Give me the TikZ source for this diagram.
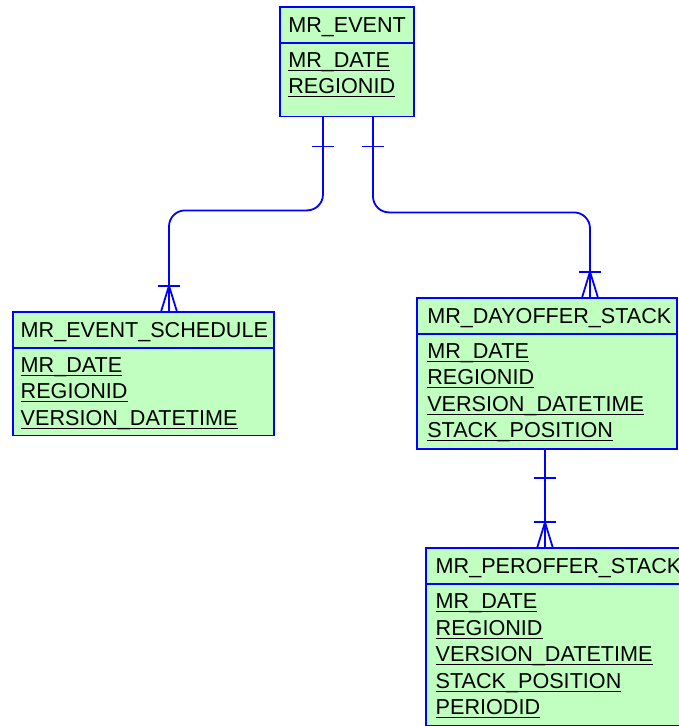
\documentclass[tikz,border=0pt]{standalone}
\usepackage{fontspec}
\setmainfont{Liberation Sans}
\usetikzlibrary{positioning, calc}
\definecolor{entityfill}{RGB}{192,255,192}
\definecolor{linkblue}{RGB}{0,0,255}
\newcommand{\keyattr}[1]{\leavevmode\setbox0\hbox{#1}\rlap{\rule[-3.6pt]{\wd0}{1.2pt}}\box0}

\begin{document}
\begin{tikzpicture}[
    x=1pt, y=-1pt,
    entity/.style={draw=linkblue, line width=1.8pt, outer sep=0pt, fill=entityfill, anchor=north west, minimum height=36pt, text height=15pt, text depth=0pt, inner xsep=8pt, inner ysep=0pt, align=left, font=\fontsize{21.6}{26.5}\selectfont},
    attrs/.style={draw=linkblue, line width=1.8pt, outer sep=0pt, fill=entityfill, text height=24.5pt, inner xsep=8pt, inner ysep=0pt, align=left, font=\fontsize{21.6}{26.5}\selectfont},
    rel/.style={draw=linkblue, line width=1.8pt}
]
    \path[use as bounding box, clip] (0,0) rectangle (679,726);

    % entities
    \node[entity, text width=117.4pt] (event) at (280.3,6.7) {MR\_EVENT};
    \node[attrs, text width=117.4pt, text depth=49.2pt, below=0pt of event] (eventattr) {\keyattr{MR\_DATE}\\\keyattr{REGIONID}};

    \node[entity, text width=245.6pt] (schedule) at (12.7,311.7) {MR\_EVENT\_SCHEDULE};
    \node[attrs, text width=245.6pt, text depth=63.2pt, below=0pt of schedule] (scheduleattr) {\keyattr{MR\_DATE}\\\keyattr{REGIONID}\\\keyattr{VERSION\_DATETIME}};

    \node[entity, inner xsep=10pt, text width=240pt] (dayoffer) at (417.3,297.7) {MR\_DAYOFFER\_STACK};
    \node[attrs, inner xsep=10pt, text width=240pt, text depth=91pt, below=0pt of dayoffer] (dayofferattr) {\keyattr{MR\_DATE}\\\keyattr{REGIONID}\\\keyattr{VERSION\_DATETIME}\\\keyattr{STACK\_POSITION}};

    \node[entity, inner xsep=10pt, text width=246pt] (peroffer) at (425.7,548.3) {MR\_PEROFFER\_STACK};
    \node[attrs, inner xsep=10pt, text width=246pt, text depth=117.5pt, below=0pt of peroffer] (perofferattr) {\keyattr{MR\_DATE}\\\keyattr{REGIONID}\\\keyattr{VERSION\_DATETIME}\\\keyattr{STACK\_POSITION}\\\keyattr{PERIODID}};

    % connector ends
    \coordinate (e1) at ($(eventattr.south west)+(42.7,0)$);
    \coordinate (e2) at ($(eventattr.south west)+(92.7,0)$);
    \coordinate (s1) at ($(schedule.north west)+(156.3,0)$);
    \coordinate (d1) at ($(dayoffer.north west)+(172.7,0)$);
    \coordinate (d2) at ($(dayofferattr.south west)+(127.7,0)$);
    \coordinate (p1) at ($(peroffer.north west)+(119.3,0)$);

    % relationships
    \draw[rel, rounded corners=16pt] (e1) -- ++(0,94) -| (s1);
    \draw[rel, rounded corners=16pt] (e2) -- ++(0,96) -| (d1);
    \draw[rel] (d2) -- (p1);

    % one marks
    \foreach \c/\off in {e1/30, e2/30, d2/28.4}
        \draw[rel] ($(\c)+(-11,\off)$) -- ++(22,0);
    % many marks
    \foreach \c in {s1, d1, p1} {
        \draw[rel] ($(\c)+(-11,-26)$) -- ++(22,0);
        \draw[rel] ($(\c)+(-8,0)$) -- ($(\c)+(0,-26)$) -- ($(\c)+(8,0)$);
    }
\end{tikzpicture}
\end{document}
